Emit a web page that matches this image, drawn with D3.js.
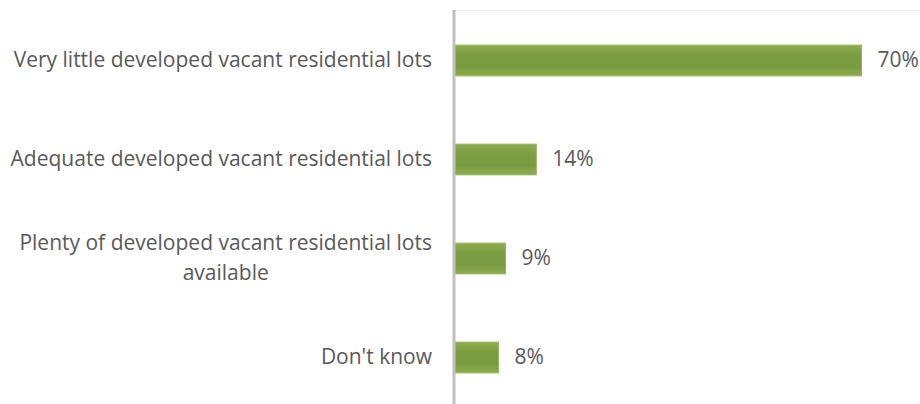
<!DOCTYPE html>
<html>
<head>
<meta charset="utf-8">
<script src="https://cdn.jsdelivr.net/npm/d3@7"></script>
<style>
  body { margin: 0; background: #fff; }
  text { font-family: "Open Sans", "Noto Sans", sans-serif; fill: #595959; }
</style>
</head>
<body>
<script>
const categories = [
  ["Very little developed vacant residential lots"],
  ["Adequate developed vacant residential lots"],
  ["Plenty of developed vacant residential lots", "available"],
  ["Don't know"]
];
const values = [70, 14, 8.7, 7.5];
const valueLabels = ["70%", "14%", "9%", "8%"];

const W = 920, H = 404;
const axisX = 455;

const svg = d3.select("body")
  .append("svg")
  .attr("width", W)
  .attr("height", H);

const defs = svg.append("defs");
const grad = defs.append("linearGradient")
  .attr("id", "barGrad")
  .attr("x1", 0).attr("y1", 0).attr("x2", 0).attr("y2", 1);
grad.append("stop").attr("offset", "0%").attr("stop-color", "#8cae4d");
grad.append("stop").attr("offset", "30%").attr("stop-color", "#7d9d43");
grad.append("stop").attr("offset", "70%").attr("stop-color", "#7a9a41");
grad.append("stop").attr("offset", "100%").attr("stop-color", "#8cae4d");

const x = d3.scaleLinear()
  .domain([0, 70])
  .range([axisX, 861.5]);

const y = d3.scaleBand()
  .domain(d3.range(categories.length))
  .range([11, 407])
  .paddingInner(0.69)
  .paddingOuter(0.345);

// faint top border of plot area
svg.append("line")
  .attr("x1", axisX).attr("x2", W)
  .attr("y1", 10.5).attr("y2", 10.5)
  .attr("stroke", "#ececec")
  .attr("stroke-width", 1);

// bars
svg.selectAll("rect.bar")
  .data(values)
  .enter()
  .append("rect")
  .attr("class", "bar")
  .attr("x", x(0))
  .attr("y", (d, i) => y(i))
  .attr("width", d => x(d) - x(0))
  .attr("height", y.bandwidth())
  .attr("fill", "url(#barGrad)")
  .attr("stroke", "#93b556")
  .attr("stroke-width", 1);

// vertical axis line
svg.append("line")
  .attr("x1", axisX - 1).attr("x2", axisX - 1)
  .attr("y1", 10).attr("y2", H)
  .attr("stroke", "#bfbfbf")
  .attr("stroke-width", 3);

// value labels
svg.selectAll("text.val")
  .data(values)
  .enter()
  .append("text")
  .attr("class", "val")
  .attr("x", d => x(d) + 16)
  .attr("y", (d, i) => y(i) + y.bandwidth() / 2)
  .attr("dy", "0.3em")
  .style("font-size", "21px")
  .text((d, i) => valueLabels[i]);

// category labels
const right = 432;
const lineH = 29.5;
categories.forEach((lines, i) => {
  const cy = y(i) + y.bandwidth() / 2;
  const t = svg.append("text")
    .style("font-size", "21px");
  const spans = lines.map((ln, j) =>
    t.append("tspan")
      .attr("y", cy + (j - (lines.length - 1) / 2) * lineH)
      .attr("dy", "0.3em")
      .text(ln));
  if (lines.length === 1) {
    t.attr("text-anchor", "end");
    spans[0].attr("x", right);
  } else {
    const maxW = d3.max(spans, s => s.node().getComputedTextLength());
    t.attr("text-anchor", "middle");
    spans.forEach(s => s.attr("x", right - maxW / 2));
  }
});
</script>
</body>
</html>
